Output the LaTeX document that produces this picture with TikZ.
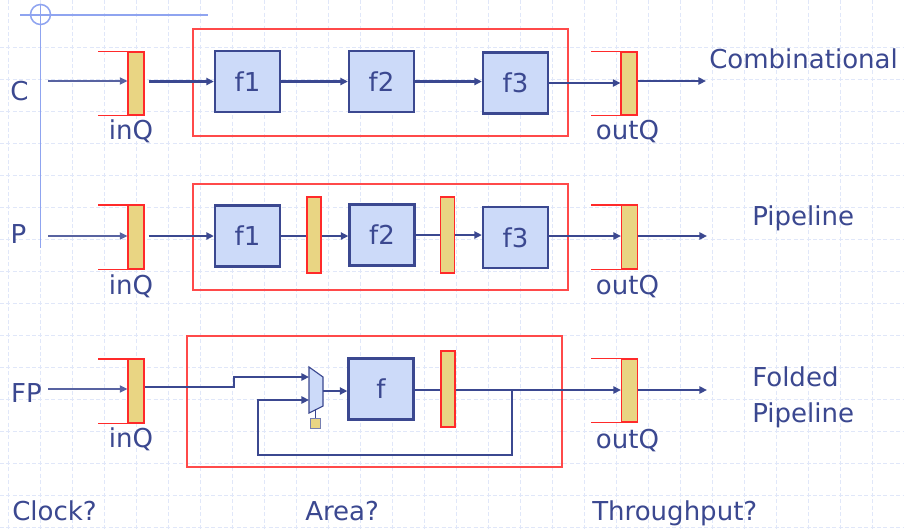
\documentclass[tikz,border=0pt]{standalone}
\usepackage{fontspec}
\setmainfont{DejaVu Sans}
\usetikzlibrary{positioning, calc, arrows.meta}
\definecolor{Navy}{HTML}{3B4890}
\definecolor{BoxFill}{HTML}{CCDAF9}
\definecolor{RegFill}{HTML}{E9D583}
\definecolor{RegRed}{HTML}{FF2A2A}
\definecolor{GridBlue}{HTML}{E0E7F9}
\definecolor{DecoBlue}{HTML}{8FA4F0}
\newcommand{\lbl}{\fontsize{18.5}{25.5}\selectfont}
\tikzset{
    fbox/.style={rectangle, draw=Navy, fill=BoxFill, line width=1.6pt, minimum width=1.625cm, minimum height=1.525cm, inner sep=0pt, text=Navy, font=\lbl},
    regbox/.style={rectangle, draw=RegRed, fill=RegFill, line width=0.8pt, minimum width=0.4cm, minimum height=1.575cm, inner sep=0pt},
    pregbox/.style={regbox, minimum width=0.35cm, minimum height=1.9cm},
    selbox/.style={rectangle, draw=Navy!70, fill=RegFill, line width=0.6pt, minimum size=0.25cm, inner sep=0pt},
    txt/.style={text=Navy, font=\lbl, inner sep=0pt},
    wire/.style={draw=Navy, line width=1.8pt},
    arrow/.style={wire, -{Triangle[length=1.9mm, width=1.8mm]}},
    inarrow/.style={arrow, draw=Navy!85, line width=0.9pt},
    outarrow/.style={arrow, line width=1.4pt},
    qline/.style={draw=RegRed, line width=0.8pt},
    frame/.style={draw=RegRed!85, line width=0.8pt},
    gridline/.style={draw=GridBlue, line width=0.6pt, dash pattern=on 1mm off 0.6mm},
    deco/.style={draw=DecoBlue, line width=1.1pt},
}
\begin{document}
\begin{tikzpicture}[x=0.025cm, y=-0.025cm]
    \fill[white] (0,0) rectangle (904,529);
    \useasboundingbox (0,0) rectangle (904,529);

    % background grid
    \foreach \gx in {0,...,27}
        \draw[gridline] (8+32*\gx,0) -- (8+32*\gx,529);
    \foreach \gy in {1,...,16}
        \draw[gridline] (0,15+32*\gy) -- (904,15+32*\gy);

    % slide corner mark
    \draw[deco] (20,15) -- (208,15);
    \draw[deco] (40.5,4) -- (40.5,248);
    \draw[deco] (40.5,14.5) circle[radius=0.25cm];

    % ---- C: combinational ----
    \draw[frame] (193,29) rectangle (568,136);
    \node[txt, anchor=base] (cLbl) at (19.5,100) {C};
    \node[regbox] (inQa) at (136,83.5) {};
    \node[fbox] (fa1) at (247.5,81.5) {f1};
    \node[fbox] (fa2) at (381.5,81.5) {f2};
    \node[fbox] (fa3) at (515.5,83) {f3};
    \node[regbox] (outQa) at (629,83.5) {};
    \node[txt, anchor=base] (inQaLbl) at (131,139) {inQ};
    \node[txt, anchor=base] (outQaLbl) at (627.5,139.5) {outQ};
    \node[txt, anchor=base west] (combLbl) at (709,68.5) {Combinational};
    \draw[qline] (inQa.north east) -- ++(-47,0);
    \draw[qline] (inQa.south east) -- ++(-47,0);
    \draw[qline] (outQa.north east) -- ++(-47,0);
    \draw[qline] (outQa.south east) -- ++(-47,0);
    \coordinate (cIn) at (48,81);
    \coordinate (cOut) at (706,81);
    \draw[inarrow] (cIn) -- (cIn -| inQa.west);
    \draw[arrow, shorten <=1mm] (inQa.east |- fa1) -- (fa1.west);
    \draw[arrow] (fa1.east) -- (fa1.east -| fa2.west);
    \draw[arrow] (fa2.east) -- (fa2.east -| fa3.west);
    \draw[outarrow] (fa3.east) -- (fa3.east -| outQa.west);
    \draw[outarrow] (cOut -| outQa.east) -- (cOut);

    % ---- P: pipeline ----
    \draw[frame] (193,184) rectangle (568,290);
    \node[txt, anchor=base] (pLbl) at (18.5,243) {P};
    \node[regbox] (inQb) at (136,237) {};
    \node[fbox] (fb1) at (247.5,236) {f1};
    \node[pregbox] (pb1) at (314,235) {};
    \node[fbox] (fb2) at (382,235) {f2};
    \node[pregbox] (pb2) at (447.5,235) {};
    \node[fbox] (fb3) at (515.5,237.5) {f3};
    \node[regbox] (outQb) at (629.5,237) {};
    \node[txt, anchor=base] (inQbLbl) at (131,294) {inQ};
    \node[txt, anchor=base] (outQbLbl) at (627.5,294) {outQ};
    \node[txt, anchor=base west] (pipeLbl) at (752,225.5) {Pipeline};
    \draw[qline] (inQb.north east) -- ++(-47,0);
    \draw[qline] (inQb.south east) -- ++(-47,0);
    \draw[qline] (outQb.north east) -- ++(-47,0);
    \draw[qline] (outQb.south east) -- ++(-47,0);
    \coordinate (pIn) at (48,236);
    \coordinate (pOut) at (707,236);
    \draw[inarrow] (pIn) -- (pIn -| inQb.west);
    \draw[arrow, shorten <=1mm] (inQb.east |- fb1) -- (fb1.west);
    \draw[wire] (fb1.east) -- (fb1.east -| pb1.west);
    \draw[arrow] (fb1.east -| pb1.east) -- (fb1.east -| fb2.west);
    \draw[wire] (fb2.east) -- (fb2.east -| pb2.west);
    \draw[arrow] (fb2.east -| pb2.east) -- (fb2.east -| fb3.west);
    \draw[outarrow] (fb3.east |- pOut) -- (pOut -| outQb.west);
    \draw[outarrow] (pOut -| outQb.east) -- (pOut);

    % ---- FP: folded pipeline ----
    \draw[frame] (187,336) rectangle (562,467);
    \node[txt, anchor=base] (fpLbl) at (26.5,402) {FP};
    \node[regbox] (inQc) at (136,391) {};
    \node[fbox] (fc) at (381,389) {f};
    \node[pregbox] (pc) at (448,389) {};
    \node[regbox] (outQc) at (629.5,390.5) {};
    \node[selbox] (sel) at (315,423) {};
    \node[txt, anchor=base] (inQcLbl) at (131,447) {inQ};
    \node[txt, anchor=base] (outQcLbl) at (627.5,448) {outQ};
    \node[txt, anchor=base west, align=left] (foldLbl) at (752,422) {Folded\\Pipeline};
    \draw[qline] (inQc.north east) -- ++(-47,0);
    \draw[qline] (inQc.south east) -- ++(-47,0);
    \draw[qline] (outQc.north east) -- ++(-47,0);
    \draw[qline] (outQc.south east) -- ++(-47,0);
    % mux
    \coordinate (muxInA) at (309,377);
    \coordinate (muxInB) at (309,400);
    \coordinate (muxOut) at (323,391);
    \coordinate (muxSel) at (315,409);
    \draw[fill=BoxFill, draw=Navy, line width=0.8pt] (309,367) -- (323,377) -- (323,406) -- (309,413) -- cycle;
    \draw[draw=Navy, line width=0.6pt] (muxSel) -- (sel.north);
    \coordinate (fpIn) at (48,389);
    \coordinate (fpStep) at (234,387);
    \coordinate (fpOut) at (707,390);
    \coordinate (tap) at (512,390);
    \coordinate (fbDown) at (512,455);
    \coordinate (fbLeft) at (258,455);
    \draw[inarrow] (fpIn) -- (fpIn -| inQc.west);
    \draw[arrow] (inQc.east |- fpStep) -- (fpStep) |- (muxInA);
    \draw[arrow] (muxOut) -- (muxOut -| fc.west);
    \draw[wire] (fc.east |- tap) -- (tap -| pc.west);
    \draw[outarrow] (tap -| pc.east) -- (tap -| outQc.west);
    \draw[arrow] (tap) -- (fbDown) -- (fbLeft) |- (muxInB);
    \draw[outarrow] (fpOut -| outQc.east) -- (fpOut);

    % questions
    \node[txt, anchor=base west] (clkLbl) at (12,520) {Clock?};
    \node[txt, anchor=base west] (areaLbl) at (305,520) {Area?};
    \node[txt, anchor=base west] (tputLbl) at (592,520) {Throughput?};
\end{tikzpicture}
\end{document}
